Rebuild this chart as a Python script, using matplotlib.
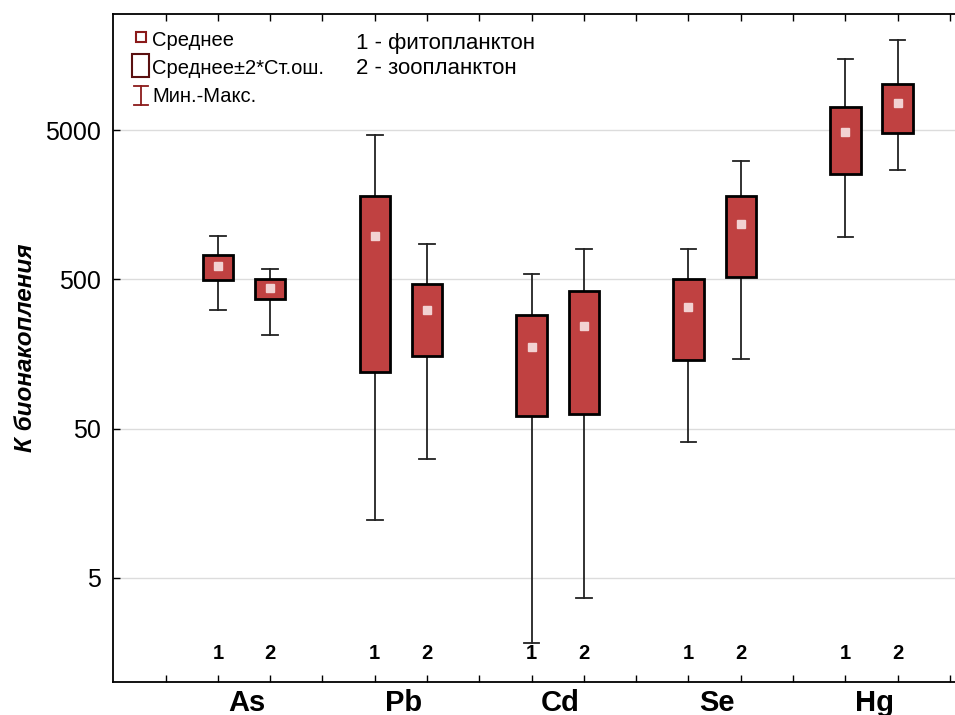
import matplotlib
matplotlib.use("Agg")
import matplotlib.pyplot as plt
from matplotlib.lines import Line2D
from matplotlib.patches import Rectangle
from matplotlib.transforms import blended_transform_factory

plt.rcParams["font.family"] = ["Liberation Sans", "DejaVu Sans"]

elements = ["As", "Pb", "Cd", "Se", "Hg"]

# 1 - фитопланктон
phyto_mean = [613, 974, 176, 326, 4850]
phyto_lo = [493, 119, 60.6, 144, 2540]      # среднее - 2*ст.ош.
phyto_hi = [727, 1795, 287, 500, 7125]      # среднее + 2*ст.ош.
phyto_min = [312, 12.1, 1.83, 40.6, 962]
phyto_max = [974, 4615, 543, 798, 15090]

# 2 - зоопланктон
zoo_mean = [437, 312, 244, 1166, 7616]
zoo_lo = [367, 153, 62.8, 515, 4800]
zoo_hi = [500, 466, 416, 1795, 10200]
zoo_min = [212, 31.3, 3.66, 146, 2714]
zoo_max = [586, 857, 794, 3125, 20090]

box_color = "#c04141"
mean_color = "#f2d2d2"
legend_red = "#8b1a1a"
narrow = ["Liberation Sans Narrow", "Liberation Sans"]

fig = plt.figure(figsize=(9.55, 7.15), dpi=100)
# x=0 at 113 px, x=16 at 950 px; right spine falls outside the picture
ax = fig.add_axes([113.3 / 955, 1 - 682 / 715, (960.4 - 113.3) / 955, (682 - 14) / 715])
ax.set_yscale("log")
ax.set_xlim(0, 16.2)
ax.set_ylim(1, 30000)

box_w = 0.58
cap_w = 0.3


def draw_box(x, mean, lo, hi, vmin, vmax):
    ax.plot([x, x], [vmin, lo], color="#222222", lw=1.3, zorder=2)
    ax.plot([x, x], [hi, vmax], color="#222222", lw=1.3, zorder=2)
    ax.plot([x - cap_w / 2, x + cap_w / 2], [vmin, vmin], color="#222222", lw=1.3, zorder=2)
    ax.plot([x - cap_w / 2, x + cap_w / 2], [vmax, vmax], color="#222222", lw=1.3, zorder=2)
    ax.add_patch(Rectangle((x - box_w / 2, lo), box_w, hi - lo, facecolor=box_color,
                           edgecolor="black", lw=2, zorder=3))
    ax.plot([x], [mean], marker="s", ms=6, color=mean_color, mec=mean_color, zorder=4)


for i in range(len(elements)):
    x1 = 2 + 3 * i
    draw_box(x1, phyto_mean[i], phyto_lo[i], phyto_hi[i], phyto_min[i], phyto_max[i])
    draw_box(x1 + 1, zoo_mean[i], zoo_lo[i], zoo_hi[i], zoo_min[i], zoo_max[i])

# y axis
ax.set_yticks([5, 50, 500, 5000])
ax.set_yticklabels(["5", "50", "500", "5000"], fontsize=18)
ax.yaxis.set_minor_locator(matplotlib.ticker.NullLocator())
ax.grid(axis="y", which="major", color="#dcdcdc", lw=1)
ax.set_axisbelow(True)
ax.set_ylabel("К бионакопления", fontsize=17.5, fontweight="bold", style="italic", labelpad=6)

# x axis: ticks at integers, element names in between
ax.set_xticks(range(1, 17))
ax.set_xticklabels([])
ax.set_xticks([2.55 + 3 * i for i in range(len(elements))], minor=True)
ax.set_xticklabels(elements, minor=True, fontsize=21, fontweight="bold", family=narrow)
ax.tick_params(axis="x", which="minor", length=0, pad=5)
ax.tick_params(axis="both", which="major", direction="in", length=5, width=1, top=True)
ax.tick_params(axis="y", which="major", pad=9)
for sp in ax.spines.values():
    sp.set_linewidth(1.3)

# group numbers inside the plot
tr = blended_transform_factory(ax.transData, ax.transAxes)
for i in range(len(elements)):
    for k, num in enumerate(["1", "2"]):
        ax.text(2 + 3 * i + k, 0.042, num, transform=tr, ha="center", va="center",
                fontsize=14.5, fontweight="bold", family=narrow)


# custom legend (figure pixel coordinates)
def fx(px):
    return px / 955


def fy(py):
    return 1 - py / 715


fig.add_artist(Line2D([fx(141)], [fy(37)], marker="s", ms=7, mfc="white", mec=legend_red,
                      mew=1.5, transform=fig.transFigure))
fig.add_artist(Rectangle((fx(132), fy(77)), fx(17), (77 - 54) / 715, facecolor="white",
                         edgecolor="#5a1010", lw=1.5, transform=fig.transFigure))
fig.add_artist(Line2D([fx(141), fx(141)], [fy(86), fy(105)], color=legend_red, lw=1.3,
                      transform=fig.transFigure))
fig.add_artist(Line2D([fx(134), fx(148)], [fy(86), fy(86)], color=legend_red, lw=1.3,
                      transform=fig.transFigure))
fig.add_artist(Line2D([fx(134), fx(148)], [fy(105), fy(105)], color=legend_red, lw=1.3,
                      transform=fig.transFigure))

for text, py in [("Среднее", 40), ("Среднее±2*Ст.ош.", 68), ("Мин.-Макс.", 97)]:
    fig.text(fx(152), fy(py), text, fontsize=14.5, ha="left", va="center")

fig.text(fx(356), fy(43), "1 - фитопланктон", fontsize=16, ha="left", va="center")
fig.text(fx(356), fy(68), "2 - зоопланктон", fontsize=16, ha="left", va="center")

fig.savefig("out.png", dpi=100)
